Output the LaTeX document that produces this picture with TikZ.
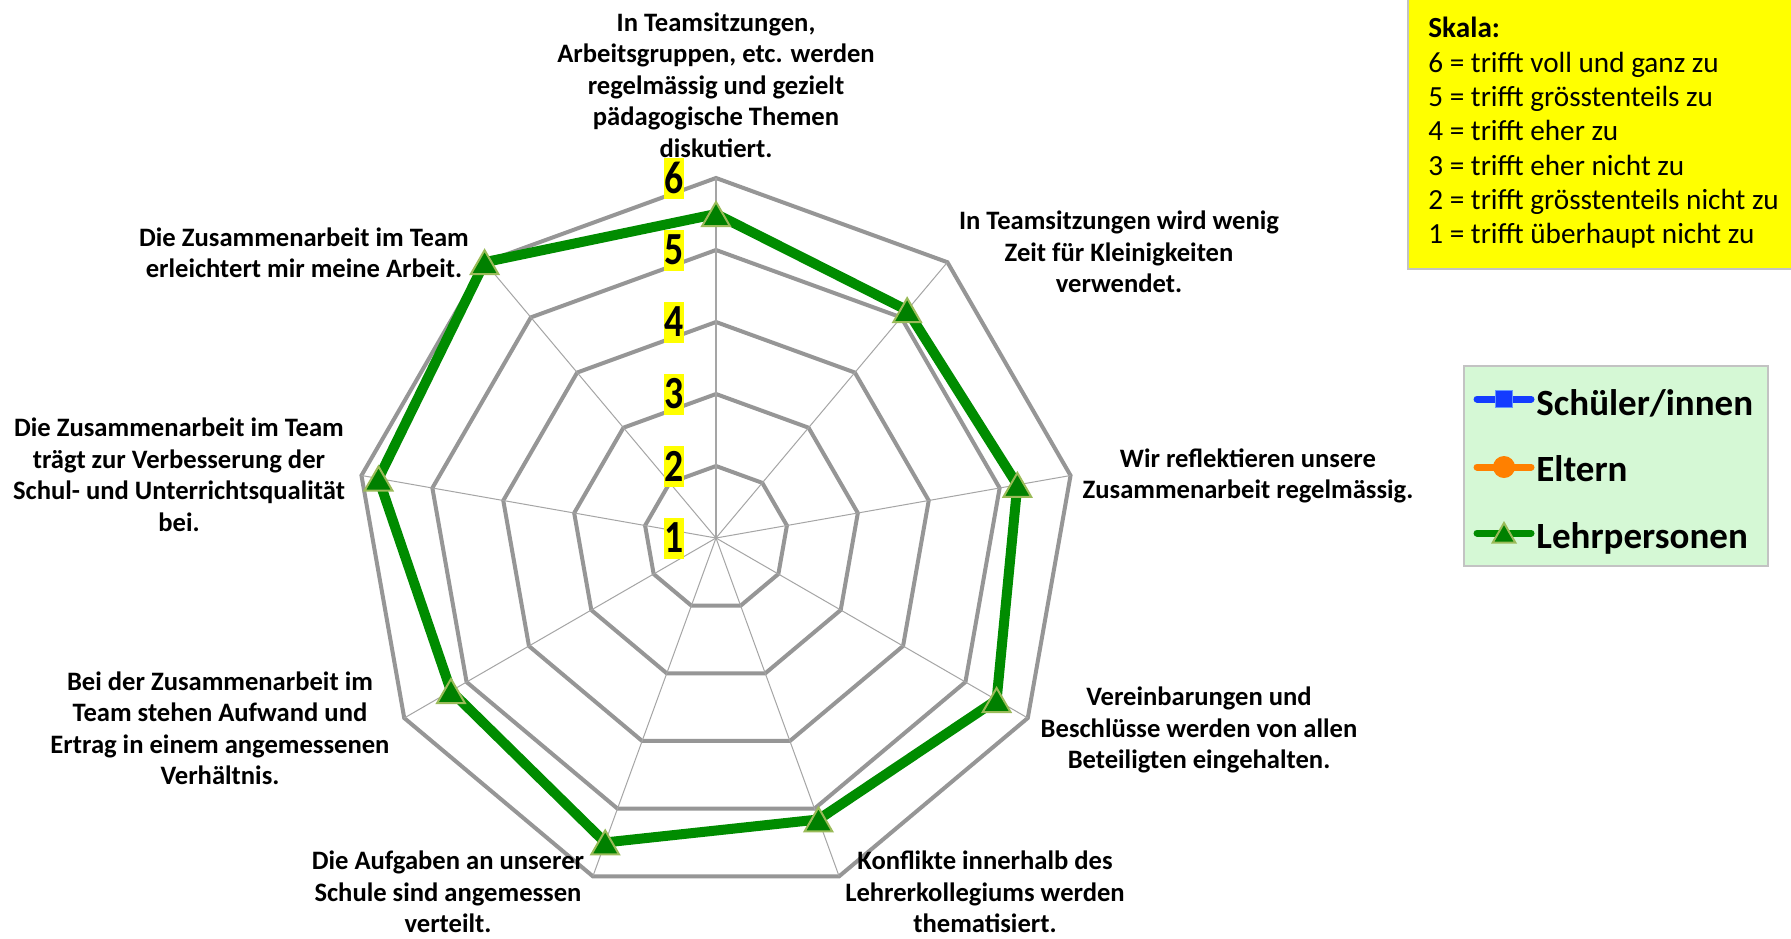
\documentclass[tikz,border=0pt]{standalone}
\usepackage{fontspec}
\setmainfont{Carlito}
\usepackage{graphicx}
\usetikzlibrary{shapes.geometric}
\definecolor{ringgray}{RGB}{150,150,150}
\definecolor{spokegray}{RGB}{165,165,165}
\definecolor{datagreen}{RGB}{0,140,0}
\definecolor{markgreen}{RGB}{0,128,0}
\definecolor{markedge}{RGB}{155,187,89}
\definecolor{scaleyellow}{RGB}{255,255,0}
\definecolor{legendbg}{RGB}{213,248,213}
\definecolor{boxedge}{RGB}{195,195,195}
\definecolor{serblue}{RGB}{20,60,255}
\definecolor{serblueedge}{RGB}{100,150,255}
\definecolor{serorange}{RGB}{255,128,0}
\begin{document}
\begin{tikzpicture}[x=0.5pt,y=-0.5pt,
 ring/.style={draw=ringgray,line width=2pt,line join=miter},
 spoke/.style={draw=spokegray,line width=0.5pt},
 dataline/.style={draw=datagreen,line width=5pt,line join=round},
 trimark/.style={regular polygon,regular polygon sides=3,fill=markgreen,draw=markedge,line width=1pt,minimum size=16pt,inner sep=0pt,yshift=-2pt},
 axlabel/.style={font=\fontsize{13.3}{15.75}\selectfont\bfseries,align=center,inner sep=0pt},
 vallabel/.style={fill=scaleyellow,inner sep=0pt,minimum width=9.5pt,minimum height=20.5pt,font=\fontsize{23}{23}\selectfont\bfseries},
 skalatext/.style={anchor=base west,inner sep=0pt,font=\fontsize{14.6}{17}\selectfont},
 legtext/.style={anchor=base west,inner sep=0pt,font=\fontsize{18.5}{22}\selectfont\bfseries},
 legline/.style={line width=3.5pt,line cap=round},
]
\useasboundingbox (0,0) rectangle (1791,938);
\fill[white] (0,0) rectangle (1791,938);

\begin{scope}[shift={(716,538)}]
\coordinate (c) at (0,0);
\foreach \k in {2,...,6}{
  \pgfmathsetmacro\rr{72*(\k-1)}
  \draw[ring] (-90:\rr) \foreach \i in {1,...,8}{ -- ({40*\i-90}:\rr) } -- cycle;
}
\foreach \i in {1,...,8} \draw[spoke] (c) -- ({40*\i-90}:360);
\draw[spoke,line width=1pt] (c) -- (-90:360);
\foreach \v [count=\i from 0] in {5.5,5.13,5.25,5.5,5.16,5.5,5.25,5.76,6.0}
  \coordinate (p\i) at ({40*\i-90}:{72*(\v-1)});
\draw[dataline] (p0) -- (p1) -- (p2) -- (p3) -- (p4) -- (p5) -- (p6) -- (p7) -- (p8) -- cycle;
\foreach \i in {0,...,8} \node[trimark] (m\i) at (p\i) {};
\foreach \k in {1,...,6} \node[vallabel] (v\k) at (-42,{-72*(\k-1)}) {\scalebox{0.82}[1]{\k}};
\end{scope}

\node[axlabel] (l0) at (716,85) {In Teamsitzungen,\\Arbeitsgruppen, etc. werden\\regelmässig und gezielt\\pädagogische Themen\\diskutiert.};
\node[axlabel] (l1) at (1119,252) {In Teamsitzungen wird wenig\\Zeit für Kleinigkeiten\\verwendet.};
\node[axlabel] (l2) at (1248,476) {Wir reflektieren unsere\\Zusammenarbeit regelmässig.};
\node[axlabel] (l3) at (1199,730) {Vereinbarungen und\\Beschlüsse werden von allen\\Beteiligten eingehalten.};
\node[axlabel] (l4) at (985,892) {Konflikte innerhalb des\\Lehrerkollegiums werden\\thematisiert.};
\node[axlabel] (l5) at (448,892) {Die Aufgaben an unserer\\Schule sind angemessen\\verteilt.};
\node[axlabel] (l6) at (220,728) {Bei der Zusammenarbeit im\\Team stehen Aufwand und\\Ertrag in einem angemessenen\\Verhältnis.};
\node[axlabel] (l7) at (179,475) {Die Zusammenarbeit im Team\\trägt zur Verbesserung der\\Schul- und Unterrichtsqualität\\bei.};
\node[axlabel] (l8) at (304,253) {Die Zusammenarbeit im Team\\erleichtert mir meine Arbeit.};

% Skala box
\draw[fill=scaleyellow,draw=boxedge,line width=1pt] (1408,-4) rectangle (1800,269);
\node[skalatext,font=\fontsize{14.6}{17}\selectfont\bfseries] (s0) at (1428,37) {Skala:};
\node[skalatext] (s6) at (1428,72) {6 = trifft voll und ganz zu};
\node[skalatext] (s5) at (1428,106) {5 = trifft grösstenteils zu};
\node[skalatext] (s4) at (1428,140) {4 = trifft eher zu};
\node[skalatext] (s3) at (1428,175) {3 = trifft eher nicht zu};
\node[skalatext] (s2) at (1428,209) {2 = trifft grösstenteils nicht zu};
\node[skalatext] (s1) at (1428,243) {1 = trifft überhaupt nicht zu};

% Legend
\draw[fill=legendbg,draw=boxedge,line width=1pt] (1464,366) rectangle (1768,566);
\coordinate (a1) at (1477,399); \coordinate (b1) at (1531,399);
\coordinate (a2) at (1477,467); \coordinate (b2) at (1531,467);
\coordinate (a3) at (1477,533); \coordinate (b3) at (1531,533);
\draw[legline,serblue] (a1) -- (b1);
\node[fill=serblue,draw=serblueedge,line width=0.75pt,minimum size=8.5pt,inner sep=0pt] (k1) at (1504,399) {};
\draw[legline,serorange] (a2) -- (b2);
\node[circle,fill=serorange,minimum size=11pt,inner sep=0pt] (k2) at (1504,467) {};
\draw[legline,datagreen] (a3) -- (b3);
\node[trimark,minimum size=13pt,yshift=0.5pt] (k3) at (1504,533) {};
\node[legtext] (t1) at (1536,415) {Schüler/innen};
\node[legtext] (t2) at (1536,481) {Eltern};
\node[legtext] (t3) at (1536,548) {Lehrpersonen};
\end{tikzpicture}
\end{document}
